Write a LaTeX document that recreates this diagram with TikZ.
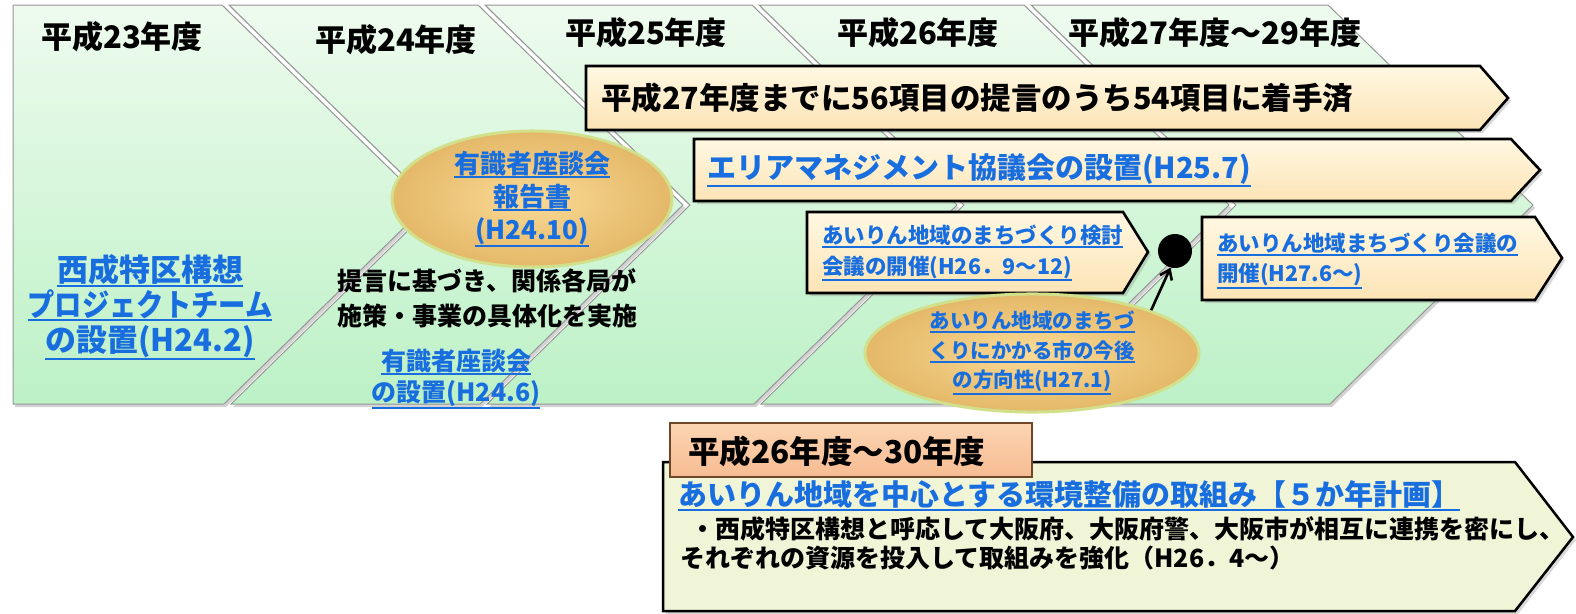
\documentclass[tikz,border=0pt]{standalone}
\usepackage{fontspec}
\usepackage{graphicx}
\setmainfont{Noto Sans CJK JP}
\usetikzlibrary{shapes.geometric,shadows,arrows.meta}
\definecolor{colt}{RGB}{238,251,238}
\definecolor{colb}{RGB}{188,241,198}
\definecolor{colline}{RGB}{150,150,150}
\definecolor{boxt}{RGB}{255,248,226}
\definecolor{boxb}{RGB}{252,228,182}
\definecolor{ellin}{RGB}{250,218,150}
\definecolor{ellout}{RGB}{228,184,104}
\definecolor{ellrim}{RGB}{210,224,140}
\definecolor{linkblue}{RGB}{24,110,222}
\definecolor{tabt}{RGB}{252,212,178}
\definecolor{tabb}{RGB}{246,188,146}
\definecolor{tabline}{RGB}{110,70,40}
\definecolor{btmfill}{RGB}{240,245,216}
\newcommand\fsz[2]{\fontsize{#1}{#2}\selectfont}
\newcommand\ulx[1]{\leavevmode\vtop{\hbox{#1}\kern0.6pt\hrule height 2pt}}
\newcommand\lnk[1]{\textcolor{linkblue}{\ulx{#1}}}
\tikzset{
  col/.style={draw=colline, line width=1pt, top color=colt, bottom color=colb,
    drop shadow={opacity=0.35,shadow xshift=2pt,shadow yshift=-3pt}},
  cbox/.style={draw=black, line width=2.6pt, top color=boxt, bottom color=boxb, line join=miter,
    drop shadow={opacity=0.3,shadow xshift=3pt,shadow yshift=-3pt}},
  ell/.style={ellipse, draw=ellrim, line width=3pt, inner color=ellin, outer color=ellout,
    align=center, inner sep=0pt},
  txt/.style={inner sep=0pt, font=\bfseries},
  hdr/.style={txt, font=\bfseries\fsz{31}{33}},
}
\begin{document}
\begin{tikzpicture}[x=1pt,y=-1pt]
\useasboundingbox (0,0) rectangle (1576,613);
% year columns
\path[col] (13,5) -- (222,5) -- (427,205) -- (224,404) -- (13,404) -- cycle;
\path[col] (229,5) -- (478,5) -- (683,205) -- (480,404) -- (231,404) -- (434,205) -- cycle;
\path[col] (485,5) -- (752,5) -- (957,205) -- (754,404) -- (487,404) -- (690,205) -- cycle;
\path[col] (759,5) -- (1024,5) -- (1229,205) -- (1026,404) -- (761,404) -- (964,205) -- cycle;
\path[col] (1031,5) -- (1328,5) -- (1533,205) -- (1330,404) -- (1033,404) -- (1236,205) -- cycle;
% headers
\node[hdr] (h23) at (122,37) {平成23年度};
\node[hdr] (h24) at (396,40) {平成24年度};
\node[hdr] (h25) at (646,33) {平成25年度};
\node[hdr] (h26) at (918,33) {平成26年度};
\node[hdr] (h27) at (1215,33) {平成27年度～29年度};
% long arrows
\path[cbox] (586,66) -- (1480,66) -- (1508,98) -- (1480,130) -- (586,130) -- cycle;
\node[txt, font=\bfseries\fsz{30.5}{33}, anchor=west] (b1) at (601,98) {平成27年度までに56項目の提言のうち54項目に着手済};
\path[cbox] (694,139) -- (1511,139) -- (1540,170) -- (1511,201) -- (694,201) -- cycle;
\node[txt, font=\bfseries\fsz{29}{32}, anchor=west] (b2) at (707,170) {\lnk{エリアマネジメント協議会の設置(H25.7)}};
% small boxes
\path[cbox] (807,212) -- (1123,212) -- (1148,252) -- (1123,293) -- (807,293) -- cycle;
\node[txt, font=\bfseries\fsz{21.5}{31}, anchor=west, align=left] (b3) at (822,253) {\lnk{あいりん地域のまちづくり検討}\\\lnk{会議の開催(H26．9～12)}};
\path[cbox] (1202,217) -- (1535,217) -- (1562,258) -- (1535,300) -- (1202,300) -- cycle;
\node[txt, font=\bfseries\fsz{21.5}{30}, anchor=west, align=left] (b4) at (1217,261) {\lnk{あいりん地域まちづくり会議の}\\\lnk{開催(H27.6～)}};
% left text
\node[txt, font=\bfseries\fsz{31}{35}, align=center] (pt) at (150,307) {\lnk{西成特区構想}\\\lnk{\scalebox{0.88}[1]{プロジェクトチーム}}\\\lnk{の設置(H24.2)}};
% ellipse 1
\node[ell, font=\bfseries\fsz{26}{33}, minimum width=280pt, minimum height=118pt] (e1) at (532,199) {\lnk{有識者座談会}\\\lnk{報告書}\\\lnk{(H24.10)}};
\node[txt, font=\bfseries\fsz{25}{35}, align=center] (imp) at (487,298) {提言に基づき、関係各局が\\施策・事業の具体化を実施};
\node[txt, font=\bfseries\fsz{25}{31}, align=center] (set) at (456,379) {\lnk{有識者座談会}\\\lnk{の設置(H24.6)}};
% ellipse 2 and dot
\node[ell, font=\bfseries\fsz{20.5}{29.5}, minimum width=334pt, minimum height=100pt] (e2) at (1032,353) {\lnk{あいりん地域のまちづ}\\\lnk{くりにかかる市の今後}\\\lnk{の方向性(H27.1)}};
\node[circle, fill=black, minimum size=34pt, inner sep=0pt] (dot) at (1175,251) {};
\draw[-{Straight Barb[length=9pt,width=13pt]}, line width=2.6pt] (e2.north east) -- (dot.255);
% bottom box
\path[draw=black, line width=2.5pt, fill=btmfill, line join=miter,
  drop shadow={opacity=0.3,shadow xshift=3pt,shadow yshift=-3pt}]
  (663,462) -- (1515,462) -- (1573,537) -- (1515,611) -- (663,611) -- cycle;
\path[draw=tabline, line width=1.2pt, top color=tabt, bottom color=tabb] (670,423) rectangle (1032,477);
\node[txt, font=\bfseries\fsz{31.5}{33}, anchor=west] (t26) at (688,451) {平成26年度～30年度};
\node[txt, font=\bfseries\fsz{29}{31}, anchor=west] (ttl) at (678,496) {\lnk{あいりん地域を中心とする環境整備の取組み【５か年計画】}};
\node[txt, font=\bfseries\fsz{25}{29}, anchor=west] (l1) at (680,529) {\hspace{10pt}・西成特区構想と呼応して大阪府、大阪府警、大阪市が相互に連携を密にし、};
\node[txt, font=\bfseries\fsz{25}{29}, anchor=west] (l2) at (680,558) {それぞれの資源を投入して取組みを強化（H26．4～）};
\end{tikzpicture}
\end{document}
